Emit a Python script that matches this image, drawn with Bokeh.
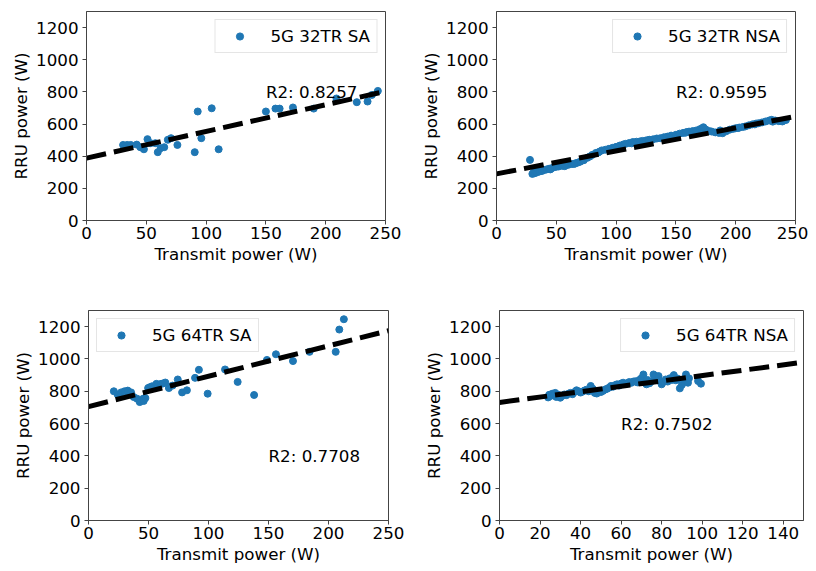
import numpy as np
from bokeh.plotting import figure
from bokeh.layouts import row, column
from bokeh.models import Legend, LegendItem, FixedTicker, Range1d
from bokeh.core.properties import value
from bokeh.embed import file_html
from bokeh.resources import INLINE

# ---------------- data ----------------
sa32_x = [30.6, 34, 37, 42, 45, 48, 51, 53.5, 57.6, 59.6, 62, 65, 68, 70.7, 76,
          90.5, 93, 96, 104.7, 110.5, 150, 158, 161.5, 172.6, 190, 209, 226, 235, 238.6, 243.6]
sa32_y = [470, 470, 470, 472, 456, 443, 506, 481, 481, 425, 450, 456, 502, 512, 470,
          425, 678, 512, 698, 443, 678, 696, 696, 703, 696, 759, 736, 740, 781, 806]

nsa32_x = [28, 30, 31, 32, 33, 34, 35, 36, 38, 40, 42, 44, 46, 48, 50, 52, 55, 58, 60, 63,
           66, 68, 70, 73, 76, 78, 80, 83, 86, 88, 91, 94, 97, 100, 103, 106, 108, 111, 114,
           117, 120, 122, 125, 128, 131, 134, 137, 140, 143, 146, 150, 153, 156, 159, 161,
           164, 167, 170, 172, 175, 178, 180, 183, 186, 189, 192, 195, 198, 200, 203, 206,
           208, 211, 214, 217, 219, 222, 225, 228, 230, 233, 236, 239, 242,
           45, 57, 65, 85, 99, 113, 127, 142, 158, 173, 187, 202, 216, 231]
nsa32_y = [377, 290, 298, 294, 303, 300, 309, 305, 308, 314, 318, 322, 325, 331, 334, 336,
           340, 346, 346, 351, 356, 360, 366, 375, 390, 398, 408, 420, 428, 436, 440, 446,
           452, 458, 466, 473, 477, 482, 488, 490, 492, 495, 498, 502, 505, 510, 512, 518,
           522, 528, 533, 540, 545, 550, 553, 556, 560, 568, 574, 566, 556, 553, 548, 545,
           543, 555, 565, 570, 574, 578, 582, 585, 592, 598, 603, 605, 610, 616, 622, 626,
           622, 618, 616, 625,
           318, 338, 352, 423, 452, 480, 500, 516, 546, 580, 560, 575, 598, 615]

sa64_x = [21.1, 24.4, 26, 27.2, 30, 32.7, 33, 35.5, 37.7, 40.5, 42.7, 45.5, 46, 47.4,
          49.7, 51, 53, 56.6, 58, 60.5, 62, 64, 67, 70, 74.4, 78, 82, 88.8, 92, 99.3,
          113.8, 124.3, 138, 148.7, 156.2, 170.4, 184.2, 206, 209, 212.8]
sa64_y = [800, 779, 770, 793, 800, 804, 795, 793, 764, 754, 733, 754, 740, 758,
          820, 825, 831, 846, 840, 846, 848, 854, 820, 835, 873, 793, 806, 883, 933, 785,
          935, 858, 777, 994, 1029, 987, 1044, 1044, 1182, 1246]

nsa64_x = [24, 24.5, 25, 26, 27, 27.5, 28, 29, 30, 31, 32, 33, 34, 35, 36, 37, 38, 39, 40,
           41, 42, 43, 44, 45, 46, 47, 48, 49, 50, 51, 52, 53, 54, 55, 56, 57, 58, 59, 60,
           61, 62, 63, 64, 65, 66, 67, 68, 69, 70, 71, 72, 72.5, 73, 74, 75, 76, 77, 78,
           78.5, 79, 80, 81, 82, 83, 84, 85, 86, 87, 88, 89, 90, 91, 92, 93, 93.5, 98, 99.4]
nsa64_y = [762, 778, 770, 785, 775, 790, 765, 778, 760, 772, 780, 776, 785, 790, 782, 795,
           806, 800, 792, 798, 805, 810, 800, 833, 815, 790, 786, 800, 795, 802, 810, 815,
           822, 833, 828, 838, 843, 835, 848, 853, 845, 850, 857, 852, 860, 862, 855, 870,
           880, 904, 858, 843, 870, 850, 862, 904, 894, 880, 894, 865, 843, 858, 873, 860,
           880, 870, 900, 868, 878, 818, 840, 875, 904, 853, 880, 863, 847]

labels = ["5G 32TR SA", "5G 32TR NSA", "5G 64TR SA", "5G 64TR NSA"]
r2_texts = ["R2: 0.8257", "R2: 0.9595", "R2: 0.7708", "R2: 0.7502"]
fit_intercepts = [388, 290, 705, 731]
fit_slopes = [1.66, 1.43, 1.88, 1.66]
x_maxes = [250, 250, 250, 150]
x_ticks = [[0, 50, 100, 150, 200, 250]] * 3 + [[0, 20, 40, 60, 80, 100, 120, 140]]
y_ticks = [0, 200, 400, 600, 800, 1000, 1200]

FONT = "DejaVu Sans"
FS = "16.7px"
BLUE = "#1f77b4"
AX = "#444444"


def make_panel(i, xs, ys, text_pos, legend_loc, fw, fh, bl, br, bt, bb):
    p = figure(output_backend="svg", toolbar_location=None,
               frame_width=fw, frame_height=fh,
               min_border_left=bl, min_border_right=br,
               min_border_top=bt, min_border_bottom=bb,
               x_range=Range1d(0, x_maxes[i]), y_range=Range1d(0, 1300))
    p.xgrid.visible = False
    p.ygrid.visible = False
    p.outline_line_color = AX
    p.outline_line_width = 1
    p.background_fill_color = "white"
    p.border_fill_color = "white"

    r = p.scatter(xs, ys, size=7, color=BLUE, line_color=BLUE)
    lx = np.array([0, x_maxes[i]], dtype=float)
    ly = fit_intercepts[i] + fit_slopes[i] * lx
    p.line(lx, ly, line_color="black", line_width=5, line_dash="20 8")
    p.text(x=[text_pos[0]], y=[text_pos[1]], text=[r2_texts[i]],
           text_font=value(FONT), text_font_size=FS, text_color="black",
           text_baseline="alphabetic", text_align="left")

    for ax, ticks in ((p.xaxis[0], x_ticks[i]), (p.yaxis[0], y_ticks)):
        ax.ticker = FixedTicker(ticks=ticks)
        ax.minor_tick_line_color = None
        ax.major_tick_in = 0
        ax.major_tick_out = 4
        ax.major_tick_line_color = AX
        ax.axis_line_color = AX
        ax.major_label_text_font = FONT
        ax.major_label_text_font_size = FS
        ax.major_label_text_color = "black"
        ax.axis_label_text_font = FONT
        ax.axis_label_text_font_size = FS
        ax.axis_label_text_font_style = "normal"
        ax.axis_label_text_color = "black"
    p.xaxis.axis_label = "Transmit power (W)"
    p.yaxis.axis_label = "RRU power (W)"
    p.xaxis.major_label_standoff = 2
    p.xaxis.axis_label_standoff = 2
    p.yaxis.major_label_standoff = 4
    p.yaxis.axis_label_standoff = 2

    leg = Legend(items=[LegendItem(label=labels[i], renderers=[r])],
                 location=legend_loc, label_text_font=FONT,
                 label_text_font_size=FS, label_text_color="black",
                 glyph_width=36, glyph_height=18, label_standoff=13,
                 padding=6, margin=8, spacing=0,
                 border_line_color="#cccccc", border_line_width=1,
                 background_fill_alpha=0.8)
    p.add_layout(leg)
    return p


p1 = make_panel(0, sa32_x, sa32_y, (150, 800), "top_right", 299, 209, 86, 25, 11, 71)
p2 = make_panel(1, nsa32_x, nsa32_y, (150, 800), "top_right", 299, 209, 86, 13, 11, 71)
p3 = make_panel(2, sa64_x, sa64_y, (150, 400), "top_left", 300, 210, 88, 26, 19, 45)
p4 = make_panel(3, nsa64_x, nsa64_y, (60, 600), "top_right", 304, 210, 85, 5, 19, 45)

layout = column(row(p1, p2), row(p3, p4))
open("out.html", "w").write(file_html(layout, INLINE))
